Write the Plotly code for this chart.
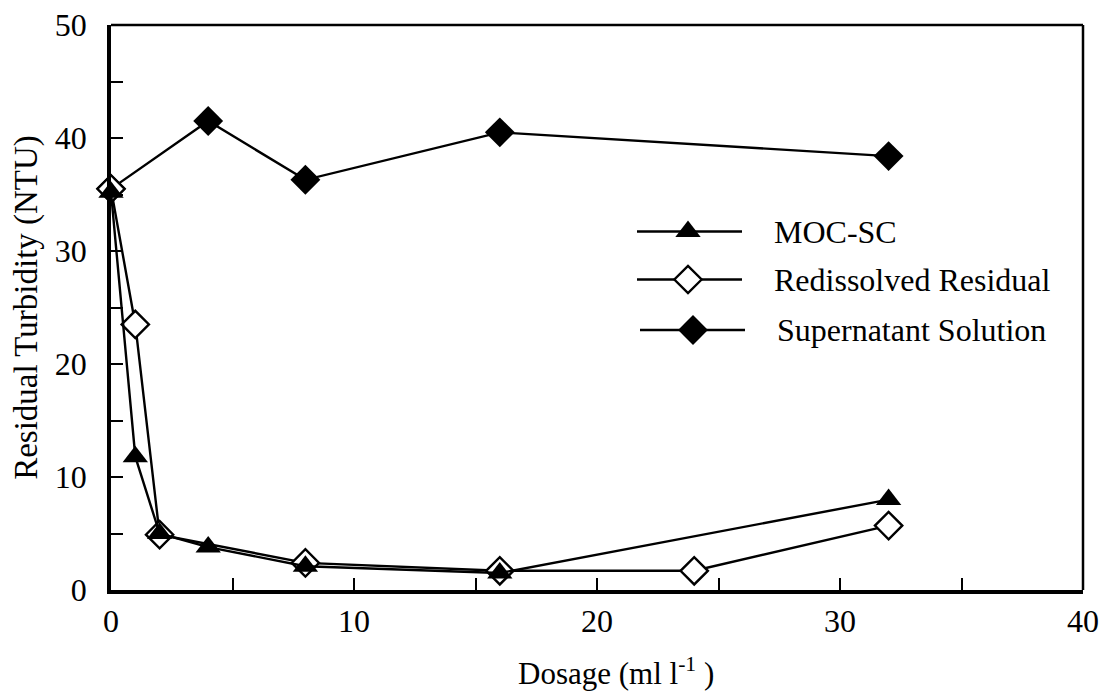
import plotly.graph_objects as go

# ---- data ----
dose_moc = [0, 1, 2, 4, 8, 16, 32]
turb_moc = [35.2, 11.8, 5.0, 3.8, 2.1, 1.5, 8.0]

dose_red = [0, 1, 2, 8, 16, 24, 32]
turb_red = [35.5, 23.5, 4.9, 2.4, 1.7, 1.7, 5.7]

dose_sup = [0, 4, 8, 16, 32]
turb_sup = [35.5, 41.5, 36.3, 40.5, 38.4]

series_names = ["MOC-SC", "Redissolved Residual", "Supernatant Solution"]
x_ticks = [0, 10, 20, 30, 40]
y_ticks = [0, 10, 20, 30, 40, 50]

FONT = "Liberation Serif"
FS = 32
L, R, T, B = 111, 25, 25, 106
W, H = 1108, 696

fig = go.Figure()

LW = 2.4
# supernatant (filled diamond)
fig.add_trace(go.Scatter(x=dose_sup, y=turb_sup, mode="lines+markers",
                         line=dict(color="black", width=LW),
                         marker=dict(symbol="diamond", size=23, color="black"),
                         showlegend=False, cliponaxis=False))
# redissolved (open diamond)
fig.add_trace(go.Scatter(x=dose_red, y=turb_red, mode="lines+markers",
                         line=dict(color="black", width=LW),
                         marker=dict(symbol="diamond", size=21, color="white",
                                     line=dict(color="black", width=2.4)),
                         showlegend=False, cliponaxis=False))
# MOC-SC (filled triangle)
fig.add_trace(go.Scatter(x=dose_moc, y=turb_moc, mode="lines+markers",
                         line=dict(color="black", width=LW),
                         marker=dict(symbol="triangle-up", size=22, color="black"),
                         showlegend=False, cliponaxis=False))

# ---- custom legend on an overlay axis (0..1) ----
pw = W - L - R
ph = H - T - B
def px2x(px):
    return (px - L) / pw
def py2y(py):
    return (H - B - py) / ph

leg_rows = [
    (231.5, 637, 742, 688, dict(symbol="triangle-up", size=22, color="black")),
    (279.5, 637, 742, 688, dict(symbol="diamond", size=21, color="white",
                               line=dict(color="black", width=2.4))),
    (330.0, 640, 745, 693, dict(symbol="diamond", size=23, color="black")),
]
for (py, x0, x1, xm, mk), name in zip(leg_rows, series_names):
    fig.add_trace(go.Scatter(x=[px2x(x0), px2x(x1)], y=[py2y(py)] * 2, mode="lines",
                             line=dict(color="black", width=LW),
                             xaxis="x2", yaxis="y2", showlegend=False, hoverinfo="skip"))
    fig.add_trace(go.Scatter(x=[px2x(xm)], y=[py2y(py)], mode="markers", marker=mk,
                             xaxis="x2", yaxis="y2", showlegend=False, hoverinfo="skip"))
    fig.add_annotation(x=px2x(x1 + 30), y=py2y(py), xref="x2", yref="y2",
                       text=name, showarrow=False, xanchor="left", yanchor="middle",
                       font=dict(family=FONT, size=FS, color="black"))

# x-axis title as annotation (placed right of centre as in the reference)
fig.add_annotation(x=px2x(616), y=py2y(671), xref="paper", yref="paper",
                   text="Dosage (ml l<sup>-1</sup> )", showarrow=False,
                   xanchor="center", yanchor="middle",
                   font=dict(family=FONT, size=31, color="black"))

fig.update_layout(
    width=W, height=H,
    margin=dict(l=L, r=R, t=T, b=B, autoexpand=False),
    plot_bgcolor="white", paper_bgcolor="white",
    font=dict(family=FONT, size=FS, color="black"),
    xaxis=dict(range=[0, 40], tickvals=x_ticks, ticktext=[str(v) for v in x_ticks],
               ticks="inside", ticklen=12, tickwidth=2, tickcolor="black",
               minor=dict(ticks="inside", dtick=5, ticklen=12, tickwidth=2, tickcolor="black"),
               showline=True, linewidth=3.5, linecolor="black", showgrid=False,
               zeroline=False, ticklabelstandoff=0, automargin=False,
               tickfont=dict(family=FONT, size=FS)),
    yaxis=dict(range=[0, 50], tickvals=y_ticks, ticktext=[str(v) for v in y_ticks],
               ticks="inside", ticklen=12, tickwidth=2, tickcolor="black",
               minor=dict(ticks="inside", dtick=5, ticklen=12, tickwidth=2, tickcolor="black"),
               showline=True, linewidth=3.5, linecolor="black", showgrid=False,
               zeroline=False, ticklabelstandoff=14, automargin=False,
               tickfont=dict(family=FONT, size=FS),
               title=dict(text="Residual Turbidity (NTU)", standoff=8,
                          font=dict(family=FONT, size=33))),
    xaxis2=dict(range=[0, 1], overlaying="x", visible=False, anchor="y2"),
    yaxis2=dict(range=[0, 1], overlaying="y", visible=False, anchor="x2"),
    shapes=[
        dict(type="line", xref="paper", yref="paper", x0=0, x1=1, y0=1, y1=1,
             line=dict(color="black", width=2.5)),
        dict(type="line", xref="paper", yref="paper", x0=1, x1=1, y0=0, y1=1,
             line=dict(color="black", width=2.5)),
    ],
)

fig.write_html("out.html")
